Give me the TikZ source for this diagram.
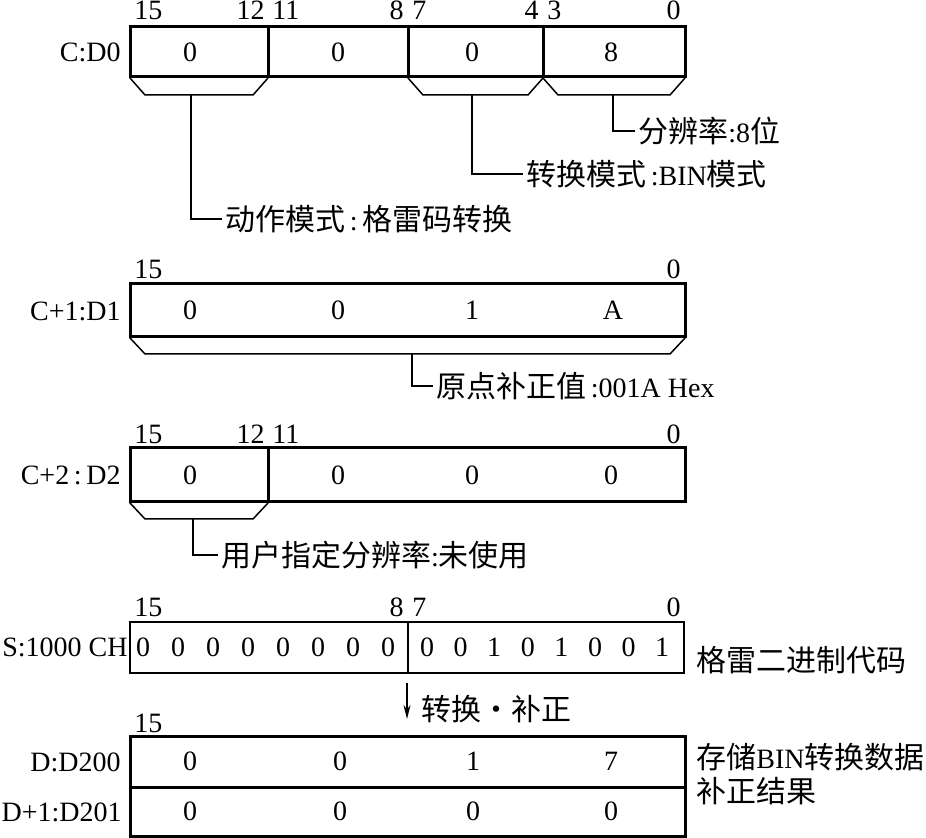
\documentclass[tikz,border=0pt]{standalone}
\usepackage{fontspec}
\setmainfont{Liberation Serif}
\newfontfamily\cjk[Scale=1.07]{Noto Sans CJK SC}
\usetikzlibrary{arrows.meta}
\begin{document}
\begin{tikzpicture}[x=0.5pt, y=-0.5pt, font=\fontsize{14}{16}\selectfont,
        reg/.style={line width=1.5pt},
        brk/.style={line width=0.75pt},
        lead/.style={line width=1pt},
        val/.style={inner sep=0pt},
        bitl/.style={anchor=base west, inner sep=0pt},
        bitr/.style={anchor=base east, inner sep=0pt},
        regname/.style={anchor=east, inner sep=0pt},
        note/.style={anchor=west, inner sep=1.5pt}]
        \useasboundingbox (0,0) rectangle (926,838);

        % C:D0
        \draw[reg] (130,27) rectangle (685,77);
        \draw[reg] (268,27) -- (268,77) (408,27) -- (408,77) (543,27) -- (543,77);
        \node[regname] (d0) at (121,52) {C:D0};
        \node[bitl] (d0b15) at (134,20) {15};
        \node[bitr] (d0b12) at (265,20) {12};
        \node[bitl] (d0b11) at (272,20) {11};
        \node[bitr] (d0b8) at (404,20) {8};
        \node[bitl] (d0b7) at (412,20) {7};
        \node[bitr] (d0b4) at (539,20) {4};
        \node[bitl] (d0b3) at (547,20) {3};
        \node[bitr] (d0b0) at (681,20) {0};
        \foreach \x/\v [count=\i] in {190/0, 338/0, 472/0, 611/8}
            \node[val] (d0v\i) at (\x,52) {\v};
        \draw[brk] (130,78) -- (145,95) -- (253,95) -- (268,78);
        \draw[brk] (408,78) -- (423,95) -- (528,95) -- (543,78);
        \draw[brk] (543,78) -- (558,95) -- (670,95) -- (685,78);
        \coordinate (d0m1) at (191,95);
        \coordinate (d0m2) at (472,95);
        \coordinate (d0m3) at (613,95);
        \node[note] (mode) at (222,219) {{\cjk 动作模式}\,:\,{\cjk 格雷码转换}};
        \node[note] (conv) at (523,174) {{\cjk 转换模式}\,:BIN{\cjk 模式}};
        \node[note] (res) at (635,131) {{\cjk 分辨率}:8{\cjk 位}};
        \draw[lead] (d0m1) |- (mode.west);
        \draw[lead] (d0m2) |- (conv.west);
        \draw[lead] (d0m3) |- (res.west);

        % C+1:D1
        \draw[reg] (130,284) rectangle (685,337);
        \node[regname] (d1) at (121,311) {C+1:D1};
        \node[bitl] (d1b15) at (134,279) {15};
        \node[bitr] (d1b0) at (681,279) {0};
        \foreach \x/\v [count=\i] in {190/0, 338/0, 472/1, 613/A}
            \node[val] (d1v\i) at (\x,310) {\v};
        \draw[brk] (130,338) -- (145,354) -- (670,354) -- (685,338);
        \coordinate (d1m) at (412,354);
        \node[note] (ofs) at (433,386) {{\cjk 原点补正值}\,:001A Hex};
        \draw[lead] (d1m) |- (ofs.west);

        % C+2:D2
        \draw[reg] (130,448) rectangle (685,502);
        \draw[reg] (268,448) -- (268,502);
        \node[regname] (d2) at (121,475) {C+2\,:\,D2};
        \node[bitl] (d2b15) at (134,444) {15};
        \node[bitr] (d2b12) at (265,444) {12};
        \node[bitl] (d2b11) at (272,444) {11};
        \node[bitr] (d2b0) at (681,444) {0};
        \foreach \x/\v [count=\i] in {190/0, 338/0, 472/0, 611/0}
            \node[val] (d2v\i) at (\x,475) {\v};
        \draw[brk] (130,503) -- (145,519) -- (253,519) -- (268,503);
        \coordinate (d2m) at (193,519);
        \node[note] (user) at (218,555) {{\cjk 用户指定分辨率}:{\cjk 未使用}};
        \draw[lead] (d2m) |- (user.west);

        % S:1000 CH
        \draw[line width=1.3pt] (130,622) rectangle (684,673);
        \draw[line width=1pt] (408,622) -- (408,673);
        \node[regname] (src) at (128,647) {S:1000 CH};
        \node[bitl] (sb15) at (134,617) {15};
        \node[bitr] (sb8) at (404,617) {8};
        \node[bitl] (sb7) at (412,617) {7};
        \node[bitr] (sb0) at (681,617) {0};
        \foreach \v [count=\i from 0] in {0,0,0,0,0,0,0,0}
            \node[val] (sh\i) at (143+35*\i,647) {\v};
        \foreach \v [count=\i from 0] in {0,0,1,0,1,0,0,1}
            \node[val] (sl\i) at (427+33.6*\i,647) {\v};
        \node[note] (gray) at (693,660) {\cjk 格雷二进制代码};

        % conversion arrow
        \coordinate (arrtop) at (407,683);
        \coordinate (arrbot) at (407,719);
        \draw[line width=0.8pt, -{Stealth[length=7pt, width=3.5pt]}] (arrtop) -- (arrbot);
        \node[note] (cvt) at (418,709) {\cjk 转换·补正};

        % D:D200 / D+1:D201
        \draw[reg] (130,737) rectangle (685,836);
        \draw[reg] (130,787) -- (685,787);
        \node[regname] (d200) at (121,762) {D:D200};
        \node[regname] (d201) at (122,812) {D+1:D201};
        \node[bitl] (db15) at (134,733) {15};
        \foreach \x/\v [count=\i] in {190/0, 340/0, 473/1, 611/7}
            \node[val] (dav\i) at (\x,761) {\v};
        \foreach \x/\v [count=\i] in {190/0, 340/0, 473/0, 611/0}
            \node[val] (dbv\i) at (\x,811) {\v};
        \node[note] (store) at (693,757) {{\cjk 存储}BIN{\cjk 转换数据}};
        \node[note, anchor=north west] (store2) at (store.south west) {\cjk 补正结果};
    \end{tikzpicture}
\end{document}
